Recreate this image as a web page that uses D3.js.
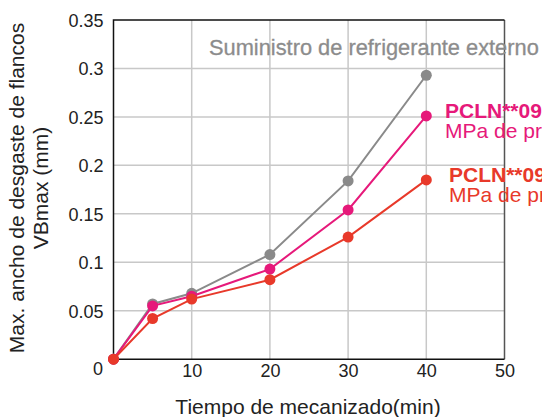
<!DOCTYPE html>
<meta charset="utf-8">
<style>
  body { margin: 0; background: #fff; }
  svg { font-family: "Liberation Sans", Arial, sans-serif; display: block; }
  .tick text { font-size: 18px; fill: #222; }
  .grid line { stroke: #c8c8c8; stroke-width: 1.5; }
  .axisTitle { font-size: 21px; fill: #222; }
</style>
<svg width="542" height="417"></svg>
<script src="https://d3js.org/d3.v7.min.js"></script>
<script>
var times = [0, 5, 10, 20, 30, 40];
var externo = [0.0, 0.057, 0.068, 0.108, 0.184, 0.293];
var pcln1 = [0.0, 0.055, 0.065, 0.093, 0.154, 0.251];
var pcln2 = [0.0, 0.042, 0.062, 0.082, 0.126, 0.185];
var yTicks = [0.05, 0.1, 0.15, 0.2, 0.25, 0.3, 0.35];
var xTicks = [10, 20, 30, 40, 50];

var series = [
  {name: "externo", color: "#8a8a8a", values: externo},
  {name: "pcln1", color: "#e6197a", values: pcln1},
  {name: "pcln2", color: "#e8392a", values: pcln2}
];

var svg = d3.select("svg");

var x = d3.scaleLinear().domain([0, 50]).range([113.5, 504.5]);
var y = d3.scaleLinear().domain([0, 0.35]).range([359.2, 20]);

// grid
var grid = svg.append("g").attr("class", "grid");
grid.selectAll(".gx").data(xTicks.slice(0, -1)).enter().append("line")
  .attr("x1", d => x(d)).attr("x2", d => x(d))
  .attr("y1", y(0)).attr("y2", y(0.35));
grid.selectAll(".gy").data(yTicks.slice(0, -1)).enter().append("line")
  .attr("x1", x(0)).attr("x2", x(50))
  .attr("y1", d => y(d)).attr("y2", d => y(d));

// axes (labels only)
var yAxis = svg.append("g")
  .attr("transform", "translate(" + x(0) + ",0)")
  .call(d3.axisLeft(y).tickValues(yTicks).tickSize(0).tickPadding(10).tickFormat(d3.format("")));
yAxis.select(".domain").remove();
yAxis.selectAll(".tick text").attr("dy", "0.35em");

var xAxis = svg.append("g")
  .attr("transform", "translate(0," + y(0) + ")")
  .call(d3.axisBottom(x).tickValues(xTicks).tickSize(0).tickPadding(5));
xAxis.select(".domain").remove();

svg.append("text")
  .attr("x", 103).attr("y", 369).attr("dy", "0.35em")
  .attr("text-anchor", "end")
  .style("font-size", "18px").style("fill", "#222")
  .text("0");

// frame
svg.append("line").attr("x1", x(50)).attr("x2", x(50)).attr("y1", y(0.35)).attr("y2", y(0))
  .attr("stroke", "#555").attr("stroke-width", 1.5);
svg.append("path")
  .attr("d", "M" + x(50) + "," + y(0.35) + "H" + x(0) + "V" + y(0) + "H" + x(50))
  .attr("fill", "none").attr("stroke", "#111").attr("stroke-width", 1.5);

// lines & points
var line = d3.line().x((d, i) => x(times[i])).y(d => y(d));
series.forEach(function(s) {
  svg.append("path")
    .attr("d", line(s.values))
    .attr("fill", "none")
    .attr("stroke", s.color)
    .attr("stroke-width", 2);
  svg.selectAll(".pt-" + s.name).data(s.values).enter().append("circle")
    .attr("cx", (d, i) => x(times[i]))
    .attr("cy", d => y(d))
    .attr("r", 5.5)
    .attr("fill", s.color);
});

// series labels
var ext = svg.append("text")
  .attr("x", 209).attr("y", 55)
  .style("font-size", "20px").style("fill", "#8c8c8c")
  .style("stroke", "#8c8c8c").style("stroke-width", 0.3)
  .text("Suministro de refrigerante externo");
// fit to width seen in the picture
var w = ext.node().getComputedTextLength();
ext.style("font-size", (20 * 330 / w) + "px");

function label(x0, y0, color, l1, l2) {
  var t = svg.append("text").attr("x", x0).attr("y", y0)
    .style("font-size", "21px").style("fill", color);
  t.append("tspan").attr("x", x0).style("font-weight", "bold").text(l1);
  t.append("tspan").attr("x", x0).attr("dy", 19.5).text(l2);
}
label(445, 118, "#e6197a", "PCLN**09", "MPa de presión");
label(449, 182, "#e8392a", "PCLN**09", "MPa de presión");

// axis titles
svg.append("text")
  .attr("class", "axisTitle")
  .attr("x", 308).attr("y", 414)
  .attr("text-anchor", "middle")
  .text("Tiempo de mecanizado(min)");

var yt = svg.append("text")
  .attr("class", "axisTitle")
  .attr("transform", "translate(24,188) rotate(-90)")
  .attr("text-anchor", "middle");
yt.append("tspan").attr("x", 0).attr("y", 0).text("Max. ancho de desgaste de flancos");
yt.append("tspan").attr("x", 0).attr("y", 24).text("VBmax (mm)");
</script>
